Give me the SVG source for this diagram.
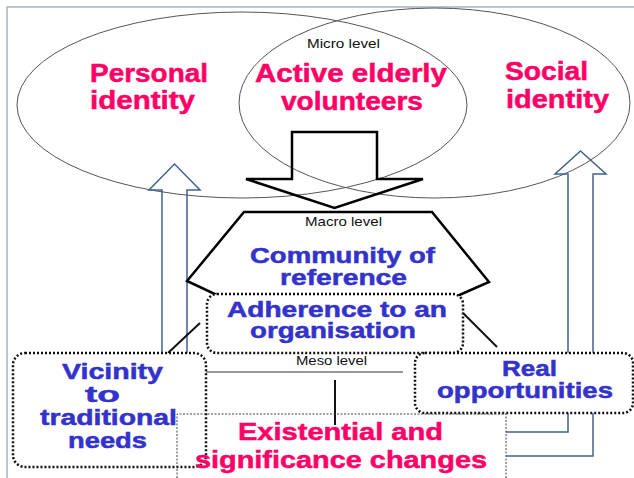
<svg xmlns="http://www.w3.org/2000/svg" width="634" height="478" viewBox="0 0 634 478">
<style>
.pink{font-family:"Liberation Sans",Arial,sans-serif;font-weight:bold;font-size:26px;fill:#ff0066;stroke:#ff0066;stroke-width:0.5;}
.pinkb{font-family:"Liberation Sans",Arial,sans-serif;font-weight:bold;font-size:24.5px;fill:#ff0066;stroke:#ff0066;stroke-width:0.5;}
.blue{font-family:"Liberation Sans",Arial,sans-serif;font-weight:bold;font-size:22px;fill:#3333cc;stroke:#3333cc;stroke-width:0.5;}
.lvl{font-family:"Liberation Sans",Arial,sans-serif;font-size:13.5px;fill:#111;}
.ell{fill:none;stroke:#555;stroke-width:1;}
.dot{fill:#fff;stroke:#111;stroke-width:2.5;stroke-dasharray:2 2;}
.thin{fill:none;stroke:#444;stroke-width:1;stroke-dasharray:2 1.5;}
.barrow{fill:none;stroke:#3f6391;stroke-width:1.5;}
.conn{stroke:#111;stroke-width:2;fill:none;}
.frame{fill:none;stroke:#a9b3c2;stroke-width:1.5;}
</style>
<path class="frame" d="M7,478 V7 H634"/>
<g id="personal-identity">
<ellipse class="ell" cx="242" cy="105" rx="225" ry="93"/>
</g>
<g id="social-identity">
<ellipse class="ell" cx="434.5" cy="103" rx="195.5" ry="95"/>
</g>
<g id="connectors">
<polygon class="barrow" points="162,370 162,190 149,190 174.5,164 200,190 187,190 187,370"/>
<path class="barrow" d="M506,432 H568 V174 H555 L580.5,151 L606,174 H593 V456 H506"/>
<polygon points="292,132 377,132 377,179 423,179 334.5,208 246,179 292,179" fill="none" stroke="#000" stroke-width="2.5" stroke-linejoin="miter"/>
<path class="conn" d="M200,323 L168,353"/>
<path class="conn" d="M463,313 L497,347"/>
<path d="M205,372 H403" stroke="#333" stroke-width="1" fill="none"/>
<path class="conn" d="M335,380 V425"/>
</g>
<g id="community">
<polygon points="244,212 432,212 489,282 455,297 221,297 187,281" fill="#fff" stroke="#000" stroke-width="2.5"/>
<text class="lvl" x="305" y="226" textLength="77" lengthAdjust="spacingAndGlyphs">Macro level</text>
<text class="blue" x="250" y="263" textLength="185" lengthAdjust="spacingAndGlyphs">Community of</text>
<text class="blue" x="280" y="285" textLength="127" lengthAdjust="spacingAndGlyphs">reference</text>
</g>
<g id="adherence">
<rect class="dot" x="207" y="294" width="256" height="59" rx="10"/>
<text class="blue" x="227" y="317" textLength="220" lengthAdjust="spacingAndGlyphs">Adherence to an</text>
<text class="blue" x="250" y="338" textLength="166" lengthAdjust="spacingAndGlyphs">organisation</text>
</g>
<g id="vicinity">
<rect class="dot" x="13" y="353" width="193" height="114" rx="12"/>
<text class="blue" x="62" y="379" textLength="101" lengthAdjust="spacingAndGlyphs">Vicinity</text>
<text class="blue" x="85" y="402" textLength="35" lengthAdjust="spacingAndGlyphs">to</text>
<text class="blue" x="40" y="425" textLength="137" lengthAdjust="spacingAndGlyphs">traditional</text>
<text class="blue" x="68" y="448" textLength="79" lengthAdjust="spacingAndGlyphs">needs</text>
</g>
<g id="real-opportunities">
<rect class="dot" x="415" y="353" width="218" height="60" rx="10"/>
<text class="blue" x="502" y="376" textLength="55" lengthAdjust="spacingAndGlyphs">Real</text>
<text class="blue" x="437" y="398" textLength="176" lengthAdjust="spacingAndGlyphs">opportunities</text>
</g>
<g id="existential">
<path class="thin" d="M177,478 V414 H506 V478"/>
<text class="pinkb" x="238" y="440" textLength="205" lengthAdjust="spacingAndGlyphs">Existential and</text>
<text class="pinkb" x="195" y="468" textLength="292" lengthAdjust="spacingAndGlyphs">significance changes</text>
</g>
<g id="labels">
<text class="lvl" x="307" y="48" textLength="73" lengthAdjust="spacingAndGlyphs">Micro level</text>
<text class="pink" x="90" y="82" textLength="118" lengthAdjust="spacingAndGlyphs">Personal</text>
<text class="pink" x="90" y="109" textLength="105" lengthAdjust="spacingAndGlyphs">identity</text>
<text class="pink" x="255" y="82" textLength="192" lengthAdjust="spacingAndGlyphs">Active elderly</text>
<text class="pink" x="281" y="110" textLength="142" lengthAdjust="spacingAndGlyphs">volunteers</text>
<text class="pink" x="505" y="80" textLength="83" lengthAdjust="spacingAndGlyphs">Social</text>
<text class="pink" x="506" y="108" textLength="103" lengthAdjust="spacingAndGlyphs">identity</text>
<text class="lvl" x="296" y="365" textLength="71" lengthAdjust="spacingAndGlyphs">Meso level</text>
</g>
</svg>
